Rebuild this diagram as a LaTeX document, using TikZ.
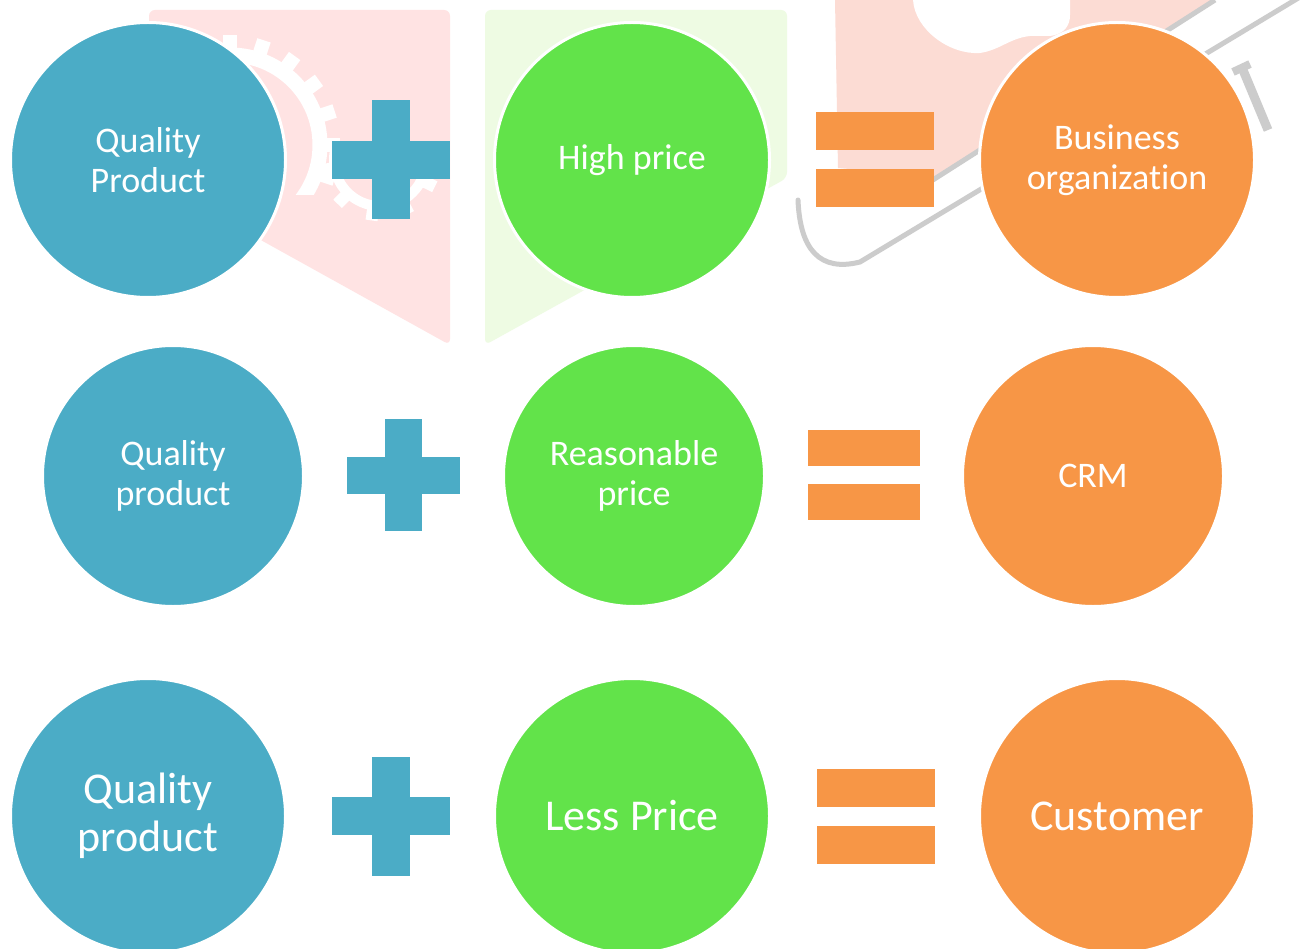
\documentclass[tikz,border=0pt]{standalone}
\usepackage{fontspec}
\setmainfont{Carlito}[Ligatures=NoCommon]
\usetikzlibrary{calc}
\definecolor{qblue}{HTML}{4BACC6}
\definecolor{pgreen}{HTML}{62E34A}
\definecolor{rorange}{HTML}{F79646}
\definecolor{pinkL}{HTML}{FFE3E3}
\definecolor{greenL}{HTML}{EEFBE3}
\definecolor{pinkR}{HTML}{FCDCD4}
\definecolor{wmgrey}{HTML}{CCCCCC}
\begin{document}
\begin{tikzpicture}[x=1pt,y=-1pt,
  bubble/.style={circle, draw=white, line width=3pt, text=white, align=center, inner sep=0pt},
  big/.style={bubble, minimum size=275pt, font={\fontsize{36}{40}\selectfont}},
  mid/.style={bubble, minimum size=261pt, font={\fontsize{36}{40}\selectfont}},
  huge/.style={bubble, minimum size=275pt, font={\fontsize{44}{48}\selectfont}},
  plusbar/.style={fill=qblue},
  eqbar/.style={fill=rorange}]
\useasboundingbox (0,0) rectangle (1303,949);
\clip (0,0) rectangle (1303,949);
\fill[white] (0,0) rectangle (1303,949);

% ---- faint background artwork behind the first row ----
\fill[pinkL, rounded corners=6pt] (149,10) -- (450,10) -- (450,345) -- (149,178) -- cycle;
\fill[greenL, rounded corners=6pt] (485,10) -- (787,10) -- (787,178) -- (485,345) -- cycle;

% cog outlines on the pink panel
\begin{scope}
  \clip (150,10) rectangle (450,195);
  \coordinate (g1) at (230,145);
  \draw[white, line width=15pt] (g1) circle (90);
  \foreach \a in {0,18,...,359}
    \fill[white, rotate around={\a:(g1)}] ($(g1)+(92,-7)$) rectangle ($(g1)+(110,7)$);
\end{scope}
\begin{scope}
  \clip (320,150) rectangle (450,240);
  \coordinate (g2) at (380,160);
  \draw[white, line width=10pt] (g2) circle (46);
  \foreach \a in {10,46,...,370}
    \fill[white, rotate around={\a:(g2)}] ($(g2)+(44,-6)$) rectangle ($(g2)+(61,6)$);
\end{scope}

% hand and tag sketch on the right
\fill[pinkR] (835,0) -- (1215,0) -- (940,177) -- (838,168) -- cycle;
\fill[white] (913,0) .. controls (915,30) and (950,55) .. (980,53)
  .. controls (1000,50) and (1010,38) .. (1030,36) -- (1050,36)
  .. controls (1065,34) and (1070,25) .. (1070,15) -- (1070,0) -- cycle;
\draw[wmgrey, line width=5pt] (925,185) -- (1215,0);
\draw[wmgrey, line width=5pt, line cap=round] (798,200) .. controls (800,250) and (820,272) .. (860,262) -- (1300,-3);
\draw[wmgrey, line width=8pt] (1233,72) -- (1250,64);
\draw[wmgrey, line width=9pt] (1243,70) -- (1268,130);

% ---- row 1 ----
\node[big, fill=qblue]   (q1) at (148,160)  {Quality\\Product};
\node[big, fill=pgreen]  (p1) at (632,160)  {High price};
\node[big, fill=rorange] (r1) at (1117,160) {Business\\organization};
\fill[plusbar] (332,141) rectangle (450,179);
\fill[plusbar] (372,100) rectangle (410,219);
\fill[eqbar] (816,112) rectangle (934,150);
\fill[eqbar] (816,169) rectangle (934,207);

% ---- row 2 ----
\node[mid, fill=qblue]   (q2) at (173,476)  {Quality\\product};
\node[mid, fill=pgreen]  (p2) at (634,476)  {Reasonable\\price};
\node[mid, fill=rorange] (r2) at (1093,476) {CRM};
\fill[plusbar] (347,457) rectangle (460,494);
\fill[plusbar] (385,419) rectangle (422,531);
\fill[eqbar] (808,430) rectangle (920,466);
\fill[eqbar] (808,484) rectangle (920,520);

% ---- row 3 ----
\node[huge, fill=qblue]   (q3) at (148,816)  {Quality\\product};
\node[huge, fill=pgreen]  (p3) at (632,816)  {Less Price};
\node[huge, fill=rorange] (r3) at (1117,816) {Customer};
\fill[plusbar] (332,797) rectangle (450,835);
\fill[plusbar] (372,757) rectangle (410,876);
\fill[eqbar] (817,769) rectangle (935,807);
\fill[eqbar] (817,826) rectangle (935,864);
\end{tikzpicture}
\end{document}
